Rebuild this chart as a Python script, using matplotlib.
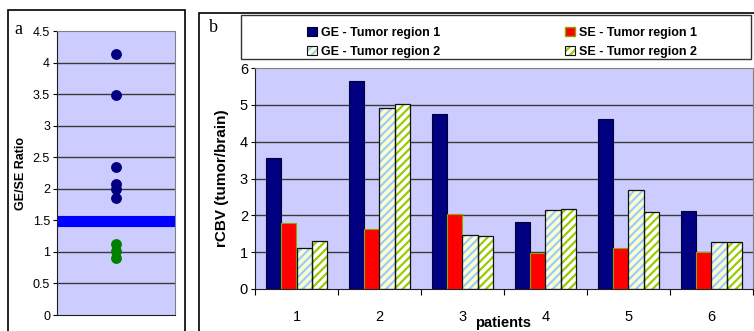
import matplotlib
matplotlib.use('Agg')
import matplotlib.pyplot as plt
from matplotlib.patches import Patch, Rectangle
from matplotlib.legend_handler import HandlerTuple
import numpy as np

plt.rcParams['font.family'] = ['Liberation Sans', 'DejaVu Sans']
plt.rcParams['hatch.linewidth'] = 1.6

# ---- data panel a ----
ratio_above = [4.13, 3.49, 2.35, 2.08, 1.99, 1.86]
ratio_below = [1.13, 1.02, 0.90]
threshold = 1.49
a_yticks = [0, 0.5, 1, 1.5, 2, 2.5, 3, 3.5, 4, 4.5]
a_yticklabels = ['0', '0.5', '1', '1.5', '2', '2.5', '3', '3.5', '4', '4.5']

# ---- data panel b ----
patients = ['1', '2', '3', '4', '5', '6']
ge_r1 = [3.55, 5.64, 4.75, 1.82, 4.61, 2.12]
se_r1 = [1.78, 1.62, 2.04, 0.99, 1.11, 1.01]
ge_r2 = [1.12, 4.91, 1.47, 2.15, 2.69, 1.28]
se_r2 = [1.30, 5.02, 1.44, 2.18, 2.09, 1.28]
series_names = ['GE - Tumor region 1', 'SE - Tumor region 1',
                'GE - Tumor region 2', 'SE - Tumor region 2']

W, H = 754, 331
fig = plt.figure(figsize=(7.54, 3.31), dpi=100)

def box(l, t, r, b):
    return [l / W, 1 - b / H, (r - l) / W, (b - t) / H]

BG = '#CCCCFF'
GRID = '#3a3a3a'

# ---------------- Panel a ----------------
axa = fig.add_axes(box(57, 31, 175, 315))
axa.set_facecolor(BG)
axa.set_ylim(0, 4.5)
axa.set_xlim(0, 2)
axa.set_yticks(a_yticks)
axa.set_yticklabels(a_yticklabels, fontsize=9)
axa.set_xticks([])
for y in a_yticks[1:-1]:
    axa.axhline(y, color=GRID, lw=1.0, zorder=1)
axa.axhline(threshold, color='#0000FF', lw=8.0, zorder=2)
axa.plot([1] * len(ratio_above), ratio_above, 'o', color='#000080', ms=6.8, zorder=3)
axa.plot([1] * len(ratio_below), ratio_below, 'o', color='#008000', ms=6.8, zorder=3)
axa.tick_params(axis='y', length=3, width=0.8, pad=2)
for s in ['left', 'bottom']:
    axa.spines[s].set_color('#202020')
for s in ['top', 'right']:
    axa.spines[s].set_color('#808080')
axa.set_ylabel('GE/SE Ratio', fontsize=9, fontweight='bold')
axa.yaxis.set_label_coords(-0.25, 0.5)

# ---------------- Panel b ----------------
axb = fig.add_axes(box(255, 68, 753, 289))
axb.set_facecolor(BG)
x = np.arange(1, len(patients) + 1)
w = 0.184
for y in range(1, 6):
    axb.axhline(y, color=GRID, lw=1.0, zorder=1)

axb.bar(x - 1.5 * w, ge_r1, w, color='#000080', edgecolor='#000033', lw=0.8, zorder=2)
axb.bar(x - 0.5 * w, se_r1, w, color='#FF0000', edgecolor='#88AA00', lw=0.8, zorder=2)
axb.bar(x + 0.5 * w, ge_r2, w, color='#FFFFCC', edgecolor='#99CCFF', lw=0, hatch='////', zorder=2)
axb.bar(x + 0.5 * w, ge_r2, w, color='none', edgecolor='#111111', lw=0.9, zorder=3)
axb.bar(x + 1.5 * w, se_r2, w, color='#FFFFFF', edgecolor='#99CC00', lw=0, hatch='////', zorder=2)
axb.bar(x + 1.5 * w, se_r2, w, color='none', edgecolor='#111111', lw=0.9, zorder=3)

axb.set_xlim(0.5, len(patients) + 0.5)
axb.set_ylim(0, 6)
axb.set_yticks(range(0, 7))
axb.tick_params(axis='y', labelsize=10.5, length=3, width=0.8, pad=2)
axb.set_xticks(np.arange(0.5, len(patients) + 1, 1.0))
axb.set_xticklabels([])
axb.tick_params(axis='x', which='major', length=4, width=0.8)
axb.set_xticks(x, minor=True)
axb.set_xticklabels(patients, minor=True, fontsize=10.5)
axb.tick_params(axis='x', which='minor', length=0, pad=15)
for s in ['left', 'bottom']:
    axb.spines[s].set_color('#202020')
for s in ['top', 'right']:
    axb.spines[s].set_color('#808080')
axb.set_ylabel('rCBV (tumor/brain)', fontsize=11, fontweight='bold')
axb.yaxis.set_label_coords(-0.053, 0.5)
fig.text(503 / W, 1 - 323 / H, 'patients', fontsize=10.5, fontweight='bold',
         ha='center', va='center')

# ---------------- frames and panel letters ----------------
fig.add_artist(Rectangle((8 / W, -0.1), (184.5 - 8) / W, 1.1 - 10 / H,
                         transform=fig.transFigure, fill=False, lw=1.2, ec='black'))
fig.add_artist(Rectangle((199 / W, -0.1), 1.0, 1.1 - 12.5 / H,
                         transform=fig.transFigure, fill=False, lw=1.2, ec='black'))
fig.add_artist(Rectangle((241 / W, 1 - 58.7 / H), (751.5 - 241) / W, (58.7 - 15.3) / H,
                         transform=fig.transFigure, fill=False, lw=1.0, ec='#333333'))
fig.text(18 / W, 1 - 30 / H, 'a', fontsize=13, family='Liberation Serif',
         ha='center', va='center')
fig.text(213 / W, 1 - 27 / H, 'b', fontsize=13, family='Liberation Serif',
         ha='center', va='center')

# ---------------- legend ----------------
h_ge1 = Patch(facecolor='#000080', edgecolor='#000033', lw=0.8)
h_se1 = Patch(facecolor='#FF0000', edgecolor='#88AA00', lw=1.0)
h_ge2 = (Patch(facecolor='#FFFFCC', edgecolor='#99CCFF', lw=0, hatch='////'),
         Patch(facecolor='none', edgecolor='#111111', lw=0.8))
h_se2 = (Patch(facecolor='#FFFFFF', edgecolor='#99CC00', lw=0, hatch='////'),
         Patch(facecolor='none', edgecolor='#111111', lw=0.8))

common = dict(frameon=False, fontsize=9, handlelength=0.75, handleheight=0.75,
              handletextpad=0.35, labelspacing=0.55, loc='upper left',
              handler_map={tuple: HandlerTuple(ndivide=1)}, borderpad=0)
leg1 = fig.legend([h_ge1, h_ge2], [series_names[0], series_names[2]],
                  bbox_to_anchor=(301 / W, 1 - 21 / H), **common)
leg2 = fig.legend([h_se1, h_se2], [series_names[1], series_names[3]],
                  bbox_to_anchor=(559 / W, 1 - 21 / H), **common)
for leg in (leg1, leg2):
    for t in leg.get_texts():
        t.set_fontweight('bold')

fig.savefig('out.png', dpi=100)
